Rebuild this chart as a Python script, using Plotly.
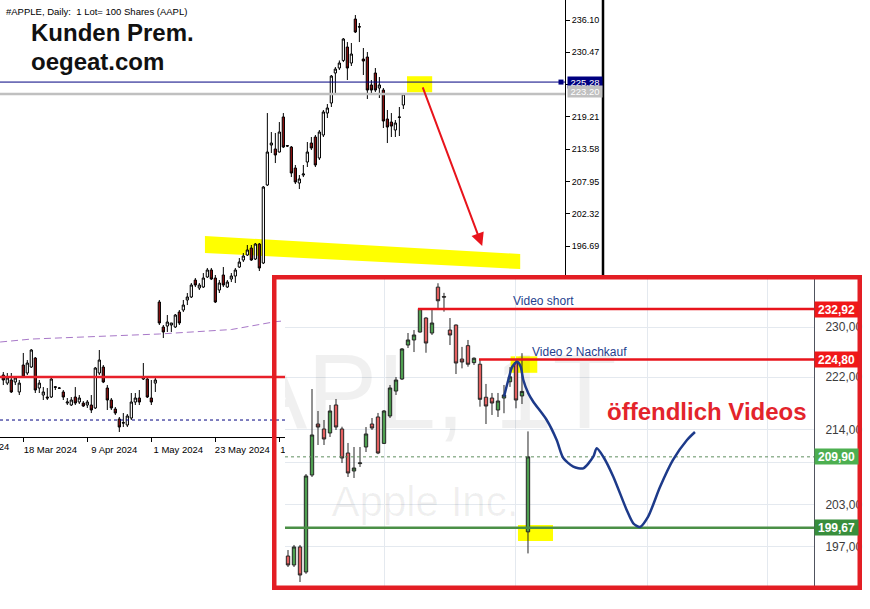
import math
import plotly.graph_objects as go

W, H = 870, 609

# ---------------- main chart (MT4, AAPL daily) ----------------
main_open = [174.20, 172.79, 173.33, 172.98, 171.24, 175.94, 174.55, 175.59, 177.16, 171.93,
             170.71, 170.36, 170.36, 172.15, 171.93, 171.24, 169.31, 168.97, 170.36, 169.49,
             169.31, 168.97, 168.97, 168.45, 174.55, 175.59, 171.93, 169.84, 168.27, 166.53,
             165.90, 165.48, 166.70, 169.49, 170.19, 173.50, 173.50, 170.19, 172.79, 186.93,
             182.57, 182.74, 182.92, 182.57, 185.18, 185.53, 187.28, 187.80, 190.76, 189.37,
             189.54, 191.29, 192.51, 191.11, 189.02, 191.64, 189.54, 190.94, 191.46, 193.03,
             194.25, 195.12, 196.34, 194.42, 197.04, 193.73, 207.33, 214.30, 213.61, 213.08,
             219.19, 214.20, 213.95, 210.29, 207.68, 209.07, 211.34, 214.65, 215.70, 212.04,
             216.05, 219.88, 221.63, 226.86, 227.73, 229.05, 231.39, 228.60, 236.27, 234.95,
             229.30, 229.65, 224.77, 226.86, 224.24, 223.89, 218.84, 218.31, 216.92, 219.10,
             221.28]
main_high = [174.72, 174.55, 174.55, 173.85, 173.33, 178.04, 176.81, 178.73, 177.34, 173.33,
             172.10, 171.93, 173.68, 172.28, 172.10, 171.58, 170.19, 170.36, 172.10, 170.71,
             169.66, 169.84, 170.71, 175.59, 178.56, 175.94, 172.45, 170.19, 168.62, 166.88,
             167.57, 167.40, 171.06, 171.06, 171.58, 176.29, 173.68, 173.33, 173.68, 187.28,
             182.92, 184.66, 183.27, 184.84, 185.53, 187.28, 188.50, 190.24, 191.11, 190.24,
             191.98, 192.86, 192.86, 191.64, 190.76, 193.03, 190.76, 191.98, 192.86, 194.60,
             195.47, 196.87, 196.87, 197.22, 197.22, 207.15, 219.88, 216.57, 216.40, 218.31,
             219.88, 214.30, 214.13, 210.82, 209.07, 210.82, 214.83, 215.70, 216.05, 216.92,
             220.41, 221.45, 226.51, 227.90, 229.05, 232.96, 232.26, 232.09, 236.97, 235.58,
             231.22, 230.52, 225.64, 227.73, 226.16, 224.24, 220.41, 219.88, 218.66, 220.93,
             223.35]
main_low = [172.45, 172.45, 171.06, 172.45, 170.71, 173.68, 174.20, 175.42, 171.06, 171.06,
            169.84, 169.84, 170.19, 171.58, 171.76, 169.84, 168.97, 168.79, 168.97, 169.14,
            168.62, 168.45, 167.57, 168.27, 174.20, 172.79, 168.10, 168.10, 167.23, 164.26,
            165.13, 165.13, 166.35, 168.97, 168.97, 173.33, 170.19, 168.97, 171.24, 182.92,
            180.65, 181.70, 181.70, 182.40, 182.92, 185.18, 186.40, 187.62, 189.54, 189.02,
            189.37, 191.11, 190.76, 186.75, 188.50, 189.54, 189.37, 190.41, 190.24, 192.86,
            193.90, 194.95, 194.08, 194.25, 192.33, 193.55, 207.15, 212.91, 211.16, 213.00,
            213.78, 213.95, 208.72, 207.50, 206.63, 208.72, 210.47, 213.43, 210.47, 211.69,
            215.70, 219.01, 220.93, 223.02, 227.38, 228.77, 225.64, 228.08, 233.83, 232.26,
            226.51, 222.33, 223.02, 223.55, 222.50, 217.27, 214.65, 215.70, 215.70, 215.87,
            220.58]
main_close = [173.33, 173.68, 171.24, 173.68, 172.79, 173.85, 176.29, 178.56, 171.58, 172.79,
              171.24, 170.19, 173.50, 172.05, 171.90, 170.36, 169.49, 169.84, 169.31, 170.19,
              168.79, 169.49, 168.10, 175.42, 176.81, 172.98, 169.84, 168.45, 167.57, 165.13,
              165.83, 167.05, 169.49, 170.19, 169.49, 173.85, 170.36, 169.49, 173.33, 183.27,
              181.70, 183.44, 183.27, 184.66, 183.27, 186.40, 187.80, 189.89, 189.89, 189.89,
              191.11, 192.51, 190.94, 186.93, 190.24, 189.89, 190.41, 191.46, 192.51, 193.90,
              194.95, 196.00, 194.25, 197.04, 192.86, 206.98, 213.08, 214.65, 212.56, 216.57,
              213.95, 214.13, 209.42, 207.85, 208.38, 209.25, 213.08, 213.78, 210.82, 216.57,
              220.06, 220.76, 226.33, 227.55, 228.60, 232.79, 227.73, 230.17, 234.01, 234.88,
              228.95, 223.89, 223.89, 223.89, 224.77, 218.49, 217.44, 217.61, 218.14, 219.19,
              223.20]
main_idx = list(range(len(main_open)))

main_tick_idx = [5, 21, 37, 53, 69]
main_tick_text = ["18 Mar 2024", "9 Apr 2024", "1 May 2024", "23 May 2024", "14 Jun 2024"]
main_yticks = [236.10, 230.47, 224.84, 219.21, 213.58, 207.95, 202.32, 196.69]

ma_idx = [-0.8, 7, 39, 57, 68, 72]
ma_val = [179.95, 180.47, 181.35, 182.13, 183.50, 183.75]

red_level = 173.85
dash_level = 166.35
ask_price = 225.28
bid_price = 223.20

# ---------------- inset chart (TradingView style) ----------------
ins_open = [195.74, 194.51, 196.99, 193.55, 207.23, 214.81, 214.06, 213.46, 217.71, 214.06,
            210.47, 207.82, 208.90, 211.36, 214.81, 215.88, 211.90, 216.03, 219.86, 221.73,
            227.10, 227.91, 229.19, 231.46, 229.03, 236.55, 235.00, 229.51, 230.32, 224.87,
            227.00, 224.30, 224.05, 218.90, 218.78, 216.94, 218.78, 221.30, 224.30, 219.10,
            199.10]
ins_high = [196.57, 197.27, 197.27, 207.38, 220.17, 216.79, 215.42, 217.71, 218.63, 214.40,
            211.96, 211.36, 211.36, 214.36, 215.72, 216.49, 216.94, 220.80, 222.04, 226.62,
            229.03, 229.51, 233.10, 231.60, 232.87, 237.20, 235.60, 231.46, 230.40, 226.80,
            227.91, 225.14, 224.77, 220.96, 219.56, 219.56, 220.80, 223.60, 224.72, 225.80,
            213.70]
ins_low = [194.23, 194.23, 192.19, 193.30, 206.94, 211.66, 211.66, 212.86, 213.91, 208.99,
           206.94, 206.80, 208.41, 210.62, 213.91, 210.30, 211.80, 215.72, 219.25, 221.57,
           226.62, 225.98, 229.10, 225.87, 228.71, 233.05, 232.50, 227.10, 222.51, 223.40,
           223.66, 223.93, 217.45, 214.81, 216.18, 215.88, 216.45, 220.50, 217.20, 217.86,
           196.10]
ins_close = [194.51, 196.99, 193.14, 207.09, 213.16, 214.36, 212.56, 216.79, 214.36, 209.73,
             207.53, 208.26, 209.00, 213.31, 214.21, 210.47, 216.79, 220.33, 221.57, 226.47,
             227.91, 228.71, 233.00, 227.42, 230.65, 234.29, 234.90, 228.71, 224.24, 224.40,
             224.05, 225.00, 218.58, 217.55, 218.01, 218.32, 219.25, 222.07, 218.47, 219.80,
             209.90]
ins_idx = list(range(len(ins_open)))

ins_yticks = [230, 222, 214, 209, 203, 197]
ins_ytick_text = ["230,00", "222,00", "214,00", "", "203,00", "197,00"]
ins_month_idx = [16, 38, 60, 80]

short_level, short_from = 232.92, 21.67
rebuy_level, rebuy_from = 224.80, 31.83
support_level = 199.67
last_price = 209.90

path_idx = [36.0, 36.72, 37.38, 38.22, 38.78, 39.22, 40.05, 40.88, 43.12, 44.78, 45.88, 47.55,
            49.22, 50.88, 51.45, 52.55, 54.22, 56.45, 57.55, 58.67, 60.0, 62.0, 64.17, 66.5, 67.83]
path_val = [218.99, 221.57, 223.66, 224.45, 223.66, 221.57, 219.51, 218.21, 215.42, 212.41, 209.73,
            208.45, 208.21, 209.92, 211.17, 209.92, 206.99, 202.19, 200.30, 199.78, 201.20, 205.49,
            209.45, 212.41, 213.61]

# ---------------- geometry helpers ----------------
def px(X):
    return X / W


def py(Y):
    return 1 - Y / H


main_xr = [-0.825, 140.4]
main_yr = [163.39, 239.59]
ins_xr = [-0.5, 87.67]
ins_yr = [191.38, 237.91]

FONT = "Liberation Sans"
MT_FONT = dict(family=FONT, size=9.5, color="black")
MT_YFONT = dict(family=FONT, size=9, color="black")

fig = go.Figure()

# ----- main chart traces -----
fig.add_trace(go.Scatter(x=ma_idx, y=ma_val, mode="lines",
                         line=dict(color="#a878c8", width=1, dash="7px,4px"), xaxis="x", yaxis="y"))
fig.add_trace(go.Scatter(x=main_xr, y=[red_level] * 2, mode="lines",
                         line=dict(color="#e8202a", width=2.5), xaxis="x", yaxis="y"))
fig.add_trace(go.Scatter(x=main_xr, y=[dash_level] * 2, mode="lines",
                         line=dict(color="#000080", width=1, dash="3px,3px"), xaxis="x", yaxis="y"))
fig.add_trace(go.Scatter(x=main_xr, y=[bid_price] * 2, mode="lines",
                         line=dict(color="#c0c0c0", width=2.5), xaxis="x", yaxis="y"))
fig.add_trace(go.Scatter(x=main_xr, y=[ask_price] * 2, mode="lines",
                         line=dict(color="#000080", width=1), xaxis="x", yaxis="y"))
fig.add_trace(go.Candlestick(
    x=main_idx, open=main_open, high=main_high, low=main_low, close=main_close,
    increasing=dict(line=dict(color="black", width=1), fillcolor="white"),
    decreasing=dict(line=dict(color="black", width=1), fillcolor="#8b1010"),
    whiskerwidth=0, xaxis="x", yaxis="y"))
fig.add_trace(go.Scatter(x=[main_xr[1] - 1.0], y=[ask_price], mode="markers",
                         marker=dict(symbol="square", size=5, color="#000080"), xaxis="x", yaxis="y"))

# ----- inset traces -----
fig.add_trace(go.Scatter(x=[17.33], y=[218.17], mode="text", text=["AAPL, 1T"],
                         textfont=dict(family=FONT, size=105, color="rgba(0,0,0,0.06)"),
                         xaxis="x2", yaxis="y2"))
fig.add_trace(go.Scatter(x=[22.83], y=[202.90], mode="text", text=["Apple Inc."],
                         textfont=dict(family=FONT, size=42, color="rgba(0,0,0,0.06)"),
                         xaxis="x2", yaxis="y2"))
fig.add_trace(go.Scatter(x=ins_xr, y=[last_price] * 2, mode="lines",
                         line=dict(color="#5f8f5f", width=1, dash="dot"), xaxis="x2", yaxis="y2"))
fig.add_trace(go.Scatter(x=ins_xr, y=[support_level] * 2, mode="lines",
                         line=dict(color="#4a8f46", width=2.5), xaxis="x2", yaxis="y2"))
fig.add_trace(go.Candlestick(
    x=ins_idx, open=ins_open, high=ins_high, low=ins_low, close=ins_close,
    increasing=dict(line=dict(color="#262626", width=1), fillcolor="#4e9f50"),
    decreasing=dict(line=dict(color="#262626", width=1), fillcolor="#e35f5f"),
    whiskerwidth=0, xaxis="x2", yaxis="y2"))
fig.add_trace(go.Scatter(x=[short_from, ins_xr[1]], y=[short_level] * 2, mode="lines",
                         line=dict(color="#e8141c", width=2.5), xaxis="x2", yaxis="y2"))
fig.add_trace(go.Scatter(x=[rebuy_from, ins_xr[1]], y=[rebuy_level] * 2, mode="lines",
                         line=dict(color="#e8141c", width=2.5), xaxis="x2", yaxis="y2"))
fig.add_trace(go.Scatter(x=path_idx, y=path_val, mode="lines",
                         line=dict(color="#1d3a8a", width=2.5, shape="spline", smoothing=0.7),
                         xaxis="x2", yaxis="y2"))

# ----- annotations -----
ann = [
    dict(text="#APPLE, Daily:\u00a0 1 Lot= 100 Shares (AAPL)", xref="paper", yref="paper",
         x=px(4), y=py(12), xanchor="left", yanchor="middle", showarrow=False, font=MT_FONT),
    dict(text="<b>Kunden Prem.</b>", xref="paper", yref="paper", x=px(29), y=py(32.6),
         xanchor="left", yanchor="middle", showarrow=False,
         font=dict(family=FONT, size=24, color="#111111")),
    dict(text="<b>oegeat.com</b>", xref="paper", yref="paper", x=px(29), y=py(61.6),
         xanchor="left", yanchor="middle", showarrow=False,
         font=dict(family=FONT, size=24, color="#111111")),
    dict(text="25 Feb 2024", xref="paper", yref="paper", x=px(10.5), y=py(446),
         xanchor="right", yanchor="middle", showarrow=False, font=MT_FONT),
    dict(text=f"{ask_price:.2f}", xref="paper", yref="y", x=px(566.5), y=ask_price,
         xanchor="left", yanchor="middle", showarrow=False, bgcolor="#000080",
         font=dict(family=FONT, size=9.5, color="white"), width=34, height=11, borderpad=0),
    dict(text=f"{bid_price:.2f}", xref="paper", yref="y", x=px(566.5), y=bid_price + 0.35,
         xanchor="left", yanchor="middle", showarrow=False, bgcolor="#c0c0c0",
         font=dict(family=FONT, size=9.5, color="white"), width=34, height=11, borderpad=0),
    dict(text="", xref="x", yref="y", x=119.7, y=196.70, axref="x", ayref="y", ax=104.7, ay=224.6,
         showarrow=True, arrowhead=2, arrowsize=1.3, arrowwidth=2, arrowcolor="#e8141c"),
    dict(text="Video short", xref="x2", yref="y2", x=37.17, y=math.log10(234.33),
         xanchor="left", yanchor="middle", showarrow=False,
         font=dict(family=FONT, size=12, color="#1f3f8f")),
    dict(text="Video 2 Nachkauf", xref="x2", yref="y2", x=40.33, y=math.log10(225.91),
         xanchor="left", yanchor="middle", showarrow=False,
         font=dict(family=FONT, size=12, color="#1f3f8f")),
    dict(text="<b>öffendlich Videos</b>", xref="x2", yref="y2", x=52.83, y=math.log10(216.64),
         xanchor="left", yanchor="middle", showarrow=False,
         font=dict(family=FONT, size=24, color="#e3242b")),
]
for val, bg in [(short_level, "#f01818"), (rebuy_level, "#f01818"),
                (last_price, "#4caf50"), (support_level, "#388e3c")]:
    ann.append(dict(text="<b>" + f"{val:.2f}".replace(".", ",") + "</b>", xref="paper", yref="y2",
                    x=px(814), y=math.log10(val), xanchor="left", yanchor="middle", showarrow=False,
                    bgcolor=bg, width=43, height=15, borderpad=0,
                    font=dict(family=FONT, size=12, color="white")))

# ----- shapes -----
band = dict(x0=50.4, x1=129.2, top0=198.44, top1=195.30, bot0=195.47, bot1=192.68)
shapes = [
    dict(type="path", xref="x", yref="y",
         path=(f"M {band['x0']},{band['top0']} L {band['x1']},{band['top1']} "
               f"L {band['x1']},{band['bot1']} L {band['x0']},{band['bot0']} Z"),
         fillcolor="#ffff00", line=dict(width=0), layer="below"),
    dict(type="rect", xref="x", yref="y", x0=100.9, x1=107.2, y0=223.5, y1=226.3,
         fillcolor="#ffff00", line=dict(width=0), layer="below"),
    dict(type="rect", xref="x2", yref="y2", x0=37.1, x1=41.55, y0=222.7, y1=225.3,
         fillcolor="#ffff00", line=dict(width=0), layer="below"),
    dict(type="rect", xref="x2", yref="y2", x0=38.33, x1=44.17, y0=197.83, y1=200.08,
         fillcolor="#ffff00", line=dict(width=0), layer="below"),
    dict(type="line", xref="paper", yref="paper", x0=px(603), x1=px(603), y0=py(0), y1=py(276),
         line=dict(color="black", width=2.5), layer="above"),
    dict(type="rect", xref="paper", yref="paper", x0=px(274.25), x1=px(859.75),
         y0=py(587.75), y1=py(277.25), line=dict(color="#e31e24", width=4.5),
         fillcolor="rgba(0,0,0,0)", layer="above"),
]

fig.update_layout(
    width=W, height=H, margin=dict(l=0, r=0, t=0, b=0),
    paper_bgcolor="white", plot_bgcolor="white", showlegend=False, hovermode=False,
    boxgap=0.2, annotations=ann, shapes=shapes,
    xaxis=dict(domain=[0, px(565)], range=main_xr, anchor="y", showgrid=False, zeroline=False,
               showline=True, linecolor="black", linewidth=1, ticks="outside", ticklen=4,
               tickcolor="black", tickvals=main_tick_idx, ticktext=main_tick_text,
               ticklabelshift=27, tickfont=MT_FONT, rangeslider=dict(visible=False)),
    yaxis=dict(domain=[py(437), 1], range=main_yr, side="right", anchor="x", showgrid=False,
               zeroline=False, showline=True, linecolor="black", linewidth=1, ticks="outside",
               ticklen=4, tickcolor="black", tickvals=main_yticks,
               ticktext=[f"{v:.2f}" for v in main_yticks], tickfont=MT_YFONT),
    xaxis2=dict(domain=[px(285), px(814)], range=ins_xr, anchor="y2", showgrid=True,
                gridcolor="#e4e9ef", tickvals=ins_month_idx, showticklabels=False, ticks="",
                zeroline=False, showline=False, rangeslider=dict(visible=False)),
    yaxis2=dict(domain=[py(588), py(279)], type="log", range=[math.log10(v) for v in ins_yr],
                side="right", anchor="x2", showgrid=True, gridcolor="#e4e9ef", showline=True,
                linecolor="#50535e", linewidth=1, tickvals=ins_yticks,
                ticktext=ins_ytick_text, ticks="",
                ticklabelstandoff=8, zeroline=False,
                tickfont=dict(family=FONT, size=12, color="#3c3c3c")),
)

fig.write_html("out.html", config={"displayModeBar": False},
               post_script="document.body.style.margin='0';")
